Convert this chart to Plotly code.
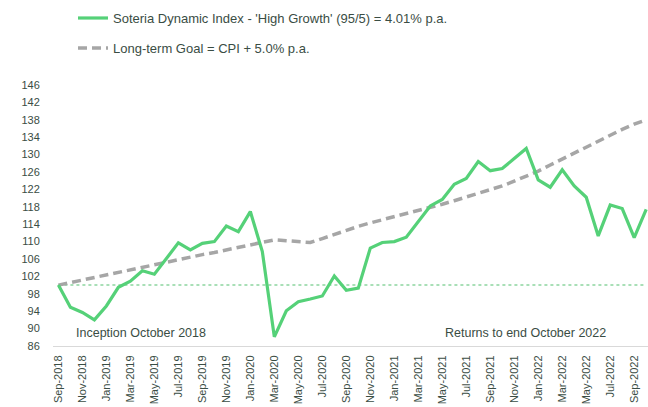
import plotly.graph_objects as go

months = ["Sep-2018", "Oct-2018", "Nov-2018", "Dec-2018",
          "Jan-2019", "Feb-2019", "Mar-2019", "Apr-2019", "May-2019", "Jun-2019",
          "Jul-2019", "Aug-2019", "Sep-2019", "Oct-2019", "Nov-2019", "Dec-2019",
          "Jan-2020", "Feb-2020", "Mar-2020", "Apr-2020", "May-2020", "Jun-2020",
          "Jul-2020", "Aug-2020", "Sep-2020", "Oct-2020", "Nov-2020", "Dec-2020",
          "Jan-2021", "Feb-2021", "Mar-2021", "Apr-2021", "May-2021", "Jun-2021",
          "Jul-2021", "Aug-2021", "Sep-2021", "Oct-2021", "Nov-2021", "Dec-2021",
          "Jan-2022", "Feb-2022", "Mar-2022", "Apr-2022", "May-2022", "Jun-2022",
          "Jul-2022", "Aug-2022", "Sep-2022", "Oct-2022"]

soteria = [100.0, 94.9, 93.7, 92.0,
           95.2, 99.5, 100.9, 103.3, 102.5, 106.2,
           109.7, 108.1, 109.6, 110.0, 113.6, 112.3,
           116.9, 107.7, 88.1, 94.1, 96.2, 96.8,
           97.5, 102.1, 98.8, 99.3, 108.5, 109.8,
           110.0, 111.0, 114.6, 118.2, 119.7, 123.2,
           124.5, 128.4, 126.3, 126.8, 129.1, 131.4,
           124.2, 122.5, 126.5, 122.8, 120.2, 111.3,
           118.4, 117.6, 110.9, 117.4]

goal = [100.0, 100.6, 101.2, 101.7,
        102.3, 102.9, 103.5, 104.1, 104.6, 105.2,
        105.8, 106.4, 107.0, 107.5, 108.1, 108.7,
        109.3, 109.9, 110.4, 110.2, 110.0, 109.8,
        110.7, 111.7, 112.6, 113.5, 114.3, 115.0,
        115.8, 116.5, 117.2, 117.9, 118.6, 119.4,
        120.2, 121.0, 121.9, 122.8, 123.9, 125.0,
        126.2, 127.6, 129.0, 130.4, 131.8, 133.2,
        134.5, 135.8, 137.0, 138.0]

baseline = [100] * len(months)
y_ticks = list(range(86, 147, 4))
x_ticks = months[::2]

series_name = "Soteria Dynamic Index - 'High Growth' (95/5) = 4.01% p.a."
goal_name = "Long-term Goal = CPI + 5.0% p.a."

TEXT = "#3a4d44"
FONT = "Liberation Sans, Arial, sans-serif"

fig = go.Figure()
fig.add_trace(go.Scatter(
    x=months, y=baseline, mode="lines",
    line=dict(color="#a9dfb7", width=2, dash="dot"),
    showlegend=False, hoverinfo="skip"))
fig.add_trace(go.Scatter(
    x=months, y=goal, mode="lines", name=goal_name, legendgroup="b", legendrank=2,
    line=dict(color="#a6a6a6", width=3.5, dash="9px,5px")))
fig.add_trace(go.Scatter(
    x=months, y=soteria, mode="lines", name=series_name, legendgroup="a", legendrank=1,
    line=dict(color="#55d178", width=3.2)))

fig.add_annotation(text="Inception October 2018", xref="paper", x=(74 - 53) / 595,
                   xanchor="left", yref="y", y=89, yanchor="middle", showarrow=False,
                   font=dict(size=12.5, color=TEXT, family=FONT))
fig.add_annotation(text="Returns to end October 2022", xref="paper", x=(443 - 53) / 595,
                   xanchor="left", yref="y", y=89, yanchor="middle", showarrow=False,
                   font=dict(size=12.5, color=TEXT, family=FONT))

fig.update_layout(
    width=648, height=407,
    margin=dict(l=53, r=0, t=85, b=61, autoexpand=False),
    paper_bgcolor="white", plot_bgcolor="white",
    font=dict(family=FONT, color=TEXT, size=11),
    legend=dict(x=20 / 595, xanchor="left", y=1.314, yanchor="top",
                traceorder="grouped", tracegroupgap=10,
                font=dict(size=13, color=TEXT, family=FONT),
                bgcolor="rgba(0,0,0,0)", itemwidth=30),
    xaxis=dict(type="category", categoryorder="array", categoryarray=months,
               range=[-0.45, 49.15], tickmode="array",
               tickvals=x_ticks, ticktext=x_ticks, tickangle=-90,
               showgrid=False, zeroline=False, showline=True, linecolor="#d9d9d9",
               linewidth=1, ticks="outside", ticklen=4, tickcolor="rgba(0,0,0,0)",
               tickfont=dict(size=11, color=TEXT), automargin=False),
    yaxis=dict(range=[86, 146], tickmode="array", tickvals=y_ticks,
               showgrid=False, zeroline=False, showline=False,
               ticks="outside", ticklen=10, tickcolor="rgba(0,0,0,0)",
               tickfont=dict(size=11, color=TEXT), automargin=False),
    showlegend=True,
)

# remove the browser's default 8px body margin so the 648x407 figure fills the window
fig.write_html("out.html", config={"displayModeBar": False},
               post_script="document.body.style.margin='0';")
